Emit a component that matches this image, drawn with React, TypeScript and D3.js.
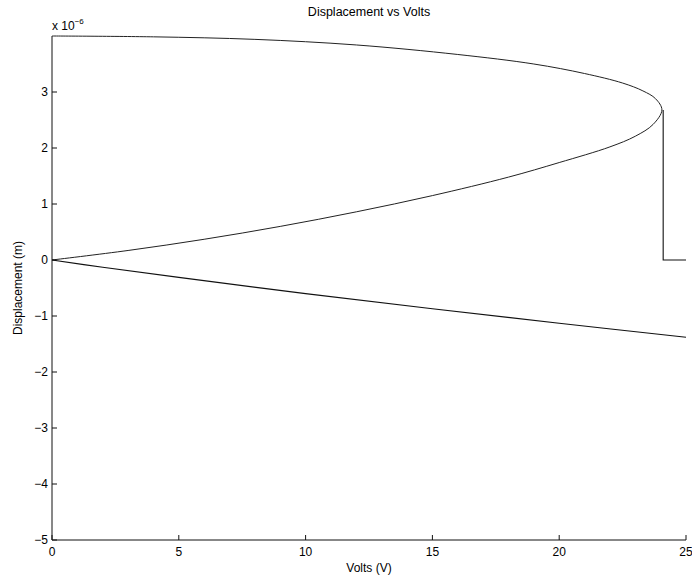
import React, { useRef, useEffect } from "react";
import * as d3 from "d3";

// values, displacement in units of 1e-6 m
const upperVolts = [0, 4, 8, 12, 16, 19, 21, 22.5, 23.3, 23.8, 24.05];
const upperDisp = [4.0, 3.985, 3.94, 3.84, 3.67, 3.5, 3.33, 3.16, 3.02, 2.88, 2.68];

const middleVolts = [0, 3, 6, 9, 12, 15, 18, 20, 22, 23, 23.7];
const middleDisp = [0, 0.17, 0.37, 0.6, 0.86, 1.15, 1.48, 1.74, 2.02, 2.21, 2.42];

const lowerVolts = [0, 2, 5, 10, 15, 20, 25];
const lowerDisp = [0, -0.13, -0.31, -0.6, -0.87, -1.13, -1.38];

const jumpVolts = [24.1, 24.1, 25];
const jumpDisp = [2.68, 0, 0];

const xTicks = [0, 5, 10, 15, 20, 25];
const yTicks = [-5, -4, -3, -2, -1, 0, 1, 2, 3];

const FONT = "'Liberation Sans', Arial, sans-serif";

export default function App() {
  const svgRef = useRef<SVGSVGElement>(null);

  useEffect(() => {
    document.body.style.margin = "0";
    const svg = d3.select(svgRef.current);
    svg.selectAll("*").remove();

    const x = d3.scaleLinear().domain([0, 25]).range([52, 686]);
    const y = d3.scaleLinear().domain([-5, 4]).range([540, 36]);

    const line = d3
      .line<[number, number]>()
      .curve(d3.curveCatmullRom.alpha(0.5))
      .x((d) => x(d[0]))
      .y((d) => y(d[1]));

    const straight = d3
      .line<[number, number]>()
      .x((d) => x(d[0]))
      .y((d) => y(d[1]));

    // middle branch up to the fold, then the upper branch back to 0 V
    const fold: [number, number][] = [
      ...middleVolts.map((v, i) => [v, middleDisp[i]] as [number, number]),
      ...upperVolts
        .map((v, i) => [v, upperDisp[i]] as [number, number])
        .reverse(),
    ];
    const lower = lowerVolts.map((v, i) => [v, lowerDisp[i]] as [number, number]);
    const jump = jumpVolts.map((v, i) => [v, jumpDisp[i]] as [number, number]);

    svg
      .append("path")
      .attr("d", line(fold))
      .attr("fill", "none")
      .attr("stroke", "#222")
      .attr("stroke-width", 1);

    svg
      .append("path")
      .attr("d", line(lower))
      .attr("fill", "none")
      .attr("stroke", "#111")
      .attr("stroke-width", 1.1);

    svg
      .append("path")
      .attr("d", straight(jump))
      .attr("fill", "none")
      .attr("stroke", "#111")
      .attr("stroke-width", 1.1);

    // axes (MATLAB style, ticks pointing inward, no box)
    const g = svg.append("g").attr("stroke", "#111").attr("stroke-width", 1);
    g.append("line")
      .attr("x1", x(0))
      .attr("x2", x(0))
      .attr("y1", y(4))
      .attr("y2", y(-5));
    g.append("line")
      .attr("x1", x(0))
      .attr("x2", x(25))
      .attr("y1", y(-5))
      .attr("y2", y(-5));

    xTicks.forEach((t) => {
      g.append("line")
        .attr("x1", x(t))
        .attr("x2", x(t))
        .attr("y1", y(-5))
        .attr("y2", y(-5) - 5);
      svg
        .append("text")
        .attr("x", x(t))
        .attr("y", y(-5) + 16)
        .attr("text-anchor", "middle")
        .attr("font-family", FONT)
        .attr("font-size", 12)
        .text(String(t));
    });

    yTicks.forEach((t) => {
      g.append("line")
        .attr("x1", x(0))
        .attr("x2", x(0) + 5)
        .attr("y1", y(t))
        .attr("y2", y(t));
      svg
        .append("text")
        .attr("x", x(0) - 4)
        .attr("y", y(t) + 4)
        .attr("text-anchor", "end")
        .attr("font-family", FONT)
        .attr("font-size", 12)
        .text(t < 0 ? "\u2212" + Math.abs(t) : String(t));
    });

    // exponent label
    const ex = svg
      .append("text")
      .attr("x", x(0))
      .attr("y", 30)
      .attr("font-family", FONT)
      .attr("font-size", 12);
    ex.append("tspan").text("x 10");
    ex.append("tspan")
      .attr("dy", -6)
      .attr("font-size", 8)
      .text("\u22126");

    svg
      .append("text")
      .attr("x", 369)
      .attr("y", 16)
      .attr("text-anchor", "middle")
      .attr("font-family", FONT)
      .attr("font-size", 12.5)
      .text("Displacement vs Volts");

    svg
      .append("text")
      .attr("x", 369)
      .attr("y", 572)
      .attr("text-anchor", "middle")
      .attr("font-family", FONT)
      .attr("font-size", 12)
      .text("Volts (V)");

    svg
      .append("text")
      .attr("transform", `translate(22, ${(y(4) + y(-5)) / 2}) rotate(-90)`)
      .attr("text-anchor", "middle")
      .attr("font-family", FONT)
      .attr("font-size", 12)
      .text("Displacement (m)");
  }, []);

  return (
    <svg
      ref={svgRef}
      width={692}
      height={575}
      style={{ display: "block", background: "#fff" }}
    ></svg>
  );
}
